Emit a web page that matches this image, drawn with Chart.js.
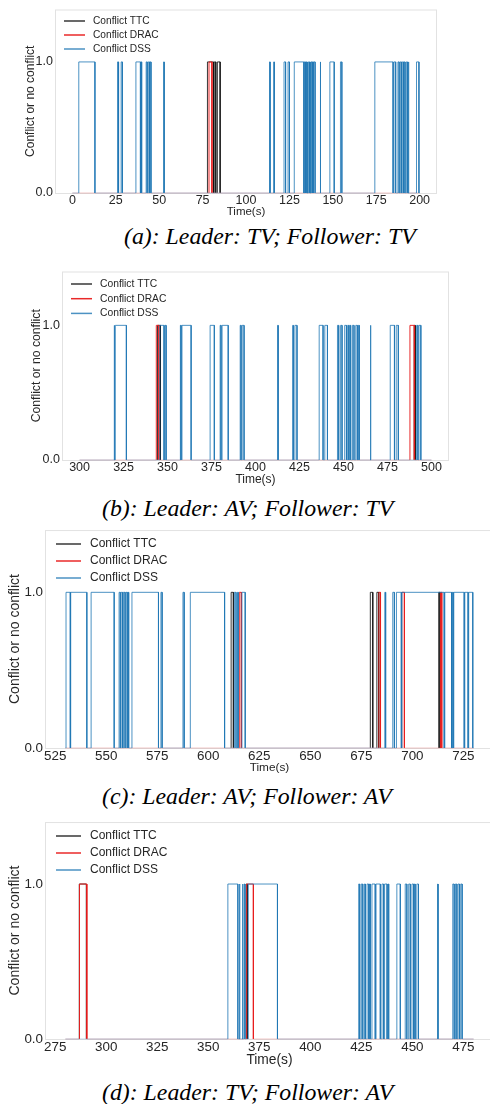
<!DOCTYPE html>
<html>
<head>
<meta charset="utf-8">
<script src="https://cdn.jsdelivr.net/npm/chart.js@4/dist/chart.umd.min.js"></script>
<style>
  html, body { margin: 0; padding: 0; background: #fff; }
  body { width: 490px; height: 1104px; overflow: hidden; position: relative; }
  canvas { position: absolute; left: 0; }
  .cap {
    position: absolute; white-space: nowrap; line-height: 28px;
    font-family: "Liberation Serif", "Times New Roman", serif;
    font-style: italic; font-size: 23.8px; color: #000;
  }
</style>
</head>
<body>
<canvas id="chA" width="490" height="219" style="top:0px"></canvas>
<div class="cap" style="left:124px;top:222px">(a): Leader: TV; Follower: TV</div>
<canvas id="chB" width="490" height="225" style="top:262px"></canvas>
<div class="cap" style="left:102px;top:494px">(b): Leader: AV; Follower: TV</div>
<canvas id="chC" width="520" height="255" style="top:520px"></canvas>
<div class="cap" style="left:102px;top:782px">(c): Leader: AV; Follower: AV</div>
<canvas id="chD" width="520" height="256" style="top:812px"></canvas>
<div class="cap" style="left:102px;top:1078px">(d): Leader: TV; Follower: AV</div>

<script>
// conflict intervals [start, end] in seconds (value is 1 inside, 0 outside)
var spanA = [0, 200];
var ttcA = [[77.8, 81.3], [81.7, 82.6], [83.5, 85.1]];
var dracA = [[78.7, 80.4]];
var dssA = [[3.7, 13.0], [26.0, 26.6], [28.1, 28.8], [36.6, 39.2], [39.5, 39.9], [42.5, 43.1], [43.7, 44.4],
  [44.8, 45.3], [52.6, 52.9], [113.6, 113.9], [116.0, 116.3], [121.9, 122.8], [124.2, 125.0], [127.8, 133.3],
  [133.6, 134.2], [134.5, 135.0], [135.3, 135.6], [135.9, 136.6], [136.9, 137.2], [137.5, 138.1], [138.4, 138.7],
  [139.0, 139.8], [142.7, 143.0], [148.3, 150.8], [154.4, 155.2], [174.2, 184.7], [185.2, 186.2], [187.5, 188.2],
  [188.8, 189.5], [190.0, 190.7], [191.1, 191.6], [192.3, 193.0], [193.4, 193.8], [198.2, 199.6]];
var ticksA = [0, 25, 50, 75, 100, 125, 150, 175, 200];

var spanB = [300, 500];
var ttcB = [[344.3, 346.0], [490.2, 490.8]];
var dracB = [[343.6, 345.1], [487.8, 490.3]];
var dssB = [[319.6, 319.9], [320.3, 326.6], [345.6, 348.0], [348.5, 349.2], [357.3, 357.7], [358.2, 363.4],
  [374.2, 376.6], [379.9, 380.4], [381.0, 384.5], [391.3, 391.8], [392.4, 393.5], [412.6, 412.9], [421.2, 421.5],
  [422.4, 423.6], [436.2, 438.4], [439.4, 440.9], [446.6, 447.3], [448.4, 449.2], [450.7, 451.7], [452.4, 453.0],
  [453.5, 454.1], [455.1, 456.0], [457.0, 457.9], [458.5, 459.0], [465.2, 465.6], [476.6, 479.0], [480.0, 481.2],
  [491.6, 492.3], [492.9, 494.0]];
var ticksB = [300, 325, 350, 375, 400, 425, 450, 475, 500];

var spanC = [530, 730];
var ttcC = [[611.2, 612.3], [679.4, 680.6], [682.6, 683.5], [712.9, 713.5]];
var dracC = [[615.2, 616.2], [683.6, 684.4], [694.8, 696.1], [713.8, 714.4]];
var dssC = [[530.3, 532.4], [532.6, 540.5], [542.6, 553.9], [556.3, 556.9], [557.3, 558.0], [558.4, 559.2],
  [559.6, 560.3], [560.6, 561.0], [562.6, 575.6], [576.8, 577.4], [587.6, 588.2], [591.2, 608.0], [612.8, 613.6],
  [614.3, 614.7], [616.5, 618.1], [686.5, 686.9], [690.4, 691.2], [692.2, 694.6], [694.9, 715.6], [715.9, 719.2],
  [719.6, 720.0], [720.3, 725.4], [725.7, 727.3], [727.6, 729.6]];
var ticksC = [525, 550, 575, 600, 625, 650, 675, 700, 725];

var spanD = [280, 480];
var ttcD = [[286.8, 290.3], [368.6, 369.2]];
var dracD = [[286.9, 290.5], [368.8, 372.1]];
var dssD = [[359.6, 364.5], [365.2, 365.5], [366.7, 367.0], [367.6, 368.0], [369.6, 383.9], [423.7, 424.2],
  [425.0, 425.7], [426.5, 427.0], [427.8, 428.6], [429.0, 429.4], [430.2, 431.8], [432.2, 434.3], [435.1, 435.9],
  [436.4, 437.6], [438.0, 438.4], [442.4, 444.1], [446.5, 447.3], [448.2, 449.0], [449.8, 450.6], [451.0, 451.4],
  [452.2, 453.0], [462.4, 462.6], [469.8, 470.5], [471.1, 471.8], [472.4, 473.1], [473.7, 474.4]];
var ticksD = [275, 300, 325, 350, 375, 400, 425, 450, 475];

var yTicks = [0, 1];
var seriesNames = ['Conflict TTC', 'Conflict DRAC', 'Conflict DSS'];
var seriesColors = ['rgba(20,20,20,0.85)', 'rgba(232,30,30,0.95)', 'rgba(31,119,180,0.8)'];
// the 0-level run sits on the frame and reads much lighter in the original
var baseColors = ['rgba(0,0,0,0.06)', 'rgba(240,120,120,0.35)', 'rgba(120,160,200,0.45)'];

var FONT = '"Liberation Sans", Arial, sans-serif';

// turn a list of intervals into a 0/1 step trace
function pulses(list, span) {
  var pts = [{x: span[0], y: 0}];
  list.forEach(function (iv) {
    pts.push({x: iv[0], y: 0}, {x: iv[0], y: 1}, {x: iv[1], y: 1}, {x: iv[1], y: 0});
  });
  pts.push({x: span[1], y: 0});
  return pts;
}

var frame = {
  id: 'frame',
  beforeDatasetsDraw: function (chart) {
    var a = chart.chartArea, ctx = chart.ctx;
    ctx.save();
    ctx.strokeStyle = '#e2e2e2';
    ctx.lineWidth = 1;
    ctx.strokeRect(a.left + 0.5, a.top + 0.5, a.right - a.left - 1, a.bottom - a.top);
    ctx.restore();
  }
};

var lineLegend = {
  id: 'lineLegend',
  afterDraw: function (chart, args, o) {
    var ctx = chart.ctx;
    ctx.save();
    ctx.font = o.size + 'px ' + FONT;
    ctx.textBaseline = 'middle';
    chart.data.datasets.forEach(function (ds, i) {
      var y = o.y + i * o.gap;
      ctx.strokeStyle = ds.borderColor;
      ctx.lineWidth = 1.5;
      ctx.beginPath();
      ctx.moveTo(o.x, y);
      ctx.lineTo(o.x + o.len, y);
      ctx.stroke();
      ctx.fillStyle = '#262626';
      ctx.fillText(ds.label, o.textX, y);
    });
    ctx.restore();
  }
};

function makeChart(id, series, span, xTicks, g) {
  var ctx = document.getElementById(id).getContext('2d');
  var datasets = series.map(function (list, i) {
    return {
      label: seriesNames[i],
      data: pulses(list, span),
      borderColor: seriesColors[i],
      borderWidth: 1,
      pointRadius: 0,
      tension: 0,
      fill: false,
      clip: 4,
      order: 3 - i,
      segment: {
        borderColor: function (c) {
          return (c.p0.parsed.y === 0 && c.p1.parsed.y === 0) ? baseColors[i] : undefined;
        }
      }
    };
  });
  return new Chart(ctx, {
    type: 'line',
    data: {datasets: datasets},
    options: {
      responsive: false,
      animation: false,
      events: [],
      layout: {padding: {left: g.padL, right: g.padR, top: g.padT, bottom: 0}},
      plugins: {
        legend: {display: false},
        tooltip: {enabled: false},
        lineLegend: g.legend
      },
      scales: {
        x: {
          type: 'linear',
          min: span[0] - 10,
          max: span[1] + 10,
          grid: {display: false, drawTicks: false},
          border: {display: false},
          afterBuildTicks: function (s) { s.ticks = xTicks.map(function (v) { return {value: v}; }); },
          afterFit: function (s) { s.height = g.xH; },
          ticks: {color: '#262626', padding: g.tickPadX, maxRotation: 0, autoSkip: false,
            font: {family: FONT, size: g.tick}},
          title: {display: true, text: 'Time(s)', color: '#262626', padding: 0,
            font: {family: FONT, size: g.xTitle}}
        },
        y: {
          min: 0,
          max: 1.4,
          grid: {display: false, drawTicks: false},
          border: {display: false},
          afterBuildTicks: function (s) { s.ticks = yTicks.map(function (v) { return {value: v}; }); },
          afterFit: function (s) { s.width = g.yW; },
          ticks: {color: '#262626', padding: 2,
            callback: function (v) { return Number(v).toFixed(1); },
            font: {family: FONT, size: g.tick}},
          title: {display: true, text: 'Conflict or no conflict', color: '#262626',
            padding: {top: 3, bottom: 0}, font: {family: FONT, size: g.yTitle}}
        }
      }
    },
    plugins: [frame, lineLegend]
  });
}

makeChart('chA', [ttcA, dracA, dssA], spanA, ticksA, {
  padL: 20, yW: 35, padR: 53, padT: 7, xH: 26, tick: 12.5, tickPadX: 0, xTitle: 11.5, yTitle: 12,
  legend: {x: 64, len: 21, y: 21, gap: 14, textX: 93, size: 10.2}
});
makeChart('chB', [ttcB, dracB, dssB], spanB, ticksB, {
  padL: 26, yW: 36, padR: 41, padT: 8, xH: 27, tick: 12.5, tickPadX: 0, xTitle: 12, yTitle: 12.2,
  legend: {x: 71, len: 21, y: 22, gap: 14.7, textX: 100, size: 10.3}
});
makeChart('chC', [ttcC, dracC, dssC], spanC, ticksC, {
  padL: 4, yW: 41, padR: 26, padT: 8, xH: 27, tick: 13.4, tickPadX: 0, xTitle: 11.8, yTitle: 14,
  legend: {x: 56, len: 25, y: 24, gap: 17, textX: 90, size: 12}
});
makeChart('chD', [ttcD, dracD, dssD], spanD, ticksD, {
  padL: 4, yW: 41, padR: 26, padT: 8, xH: 29, tick: 13.4, tickPadX: 0, xTitle: 13.8, yTitle: 14,
  legend: {x: 56, len: 25, y: 24, gap: 17, textX: 90, size: 12}
});
</script>
</body>
</html>
